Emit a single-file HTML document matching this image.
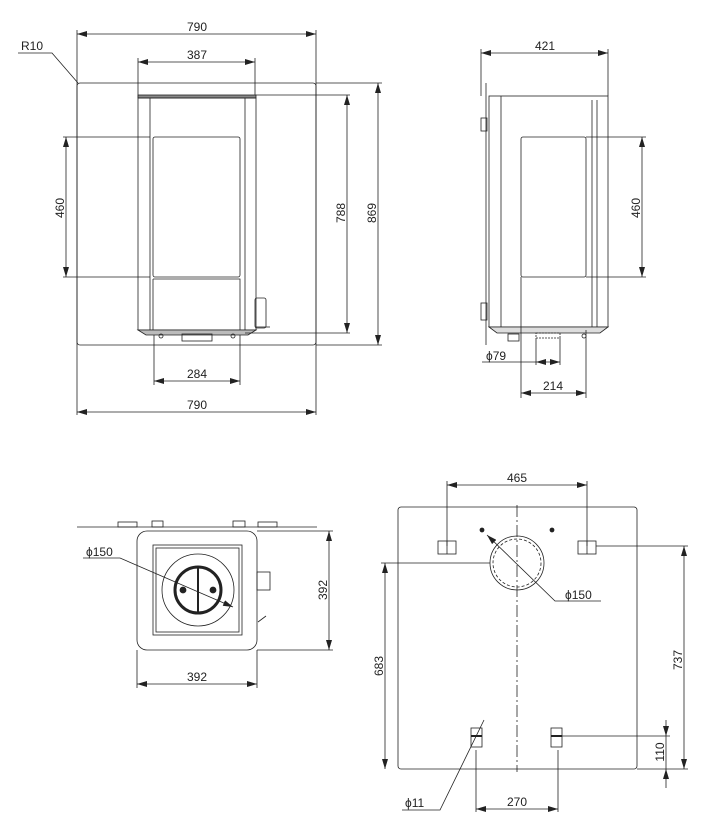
<!DOCTYPE html>
<html><head><meta charset="utf-8"><style>
body{margin:0;background:#fff}
svg{display:block}
text{font-family:"Liberation Sans",Arial,sans-serif;font-size:12px;fill:#222}
</style></head><body>
<svg width="727" height="824" viewBox="0 0 727 824" xmlns="http://www.w3.org/2000/svg">
<defs>
<marker id="a" viewBox="0 0 10 6" refX="10" refY="3" markerWidth="10" markerHeight="6" orient="auto-start-reverse" markerUnits="userSpaceOnUse"><path d="M0,0 L10,3 L0,6 z" fill="#222"/></marker>
</defs>
<g stroke="#222" stroke-width="0.8" fill="none">
<!-- FRONT VIEW -->
<rect x="77" y="83" width="239" height="262" rx="3"/>
<line x1="77" y1="30" x2="77" y2="415"/><line x1="316" y1="30" x2="316" y2="415"/>
<line x1="77" y1="34" x2="316" y2="34" marker-start="url(#a)" marker-end="url(#a)"/>
<path d="M18,53 H52 L78,83"/>
<line x1="138" y1="58" x2="138" y2="98"/><line x1="255" y1="58" x2="255" y2="98"/>
<line x1="138" y1="62" x2="255" y2="62" marker-start="url(#a)" marker-end="url(#a)"/>
<rect x="138" y="95" width="118" height="3" fill="#888"/>
<rect x="138" y="98" width="118" height="232"/>
<line x1="150" y1="98" x2="150" y2="330"/><line x1="245" y1="98" x2="245" y2="330"/>
<rect x="153" y="137" width="87" height="140" rx="2"/>
<path d="M153,279 H240 V330 M153,279 V330"/>
<path d="M138,330 H256 L248,335 H146 Z" fill="#bbb"/>
<rect x="182" y="334" width="30" height="7"/>
<circle cx="161" cy="336" r="2"/><circle cx="233" cy="336" r="2"/>
<rect x="255" y="298" width="11" height="30" rx="2"/><line x1="256" y1="327" x2="270" y2="327"/>
<line x1="63" y1="137" x2="150" y2="137"/><line x1="63" y1="277" x2="150" y2="277"/>
<line x1="66" y1="137" x2="66" y2="277" marker-start="url(#a)" marker-end="url(#a)"/>
<line x1="256" y1="95" x2="350" y2="95"/><line x1="245" y1="333" x2="350" y2="333"/>
<line x1="347" y1="95" x2="347" y2="333" marker-start="url(#a)" marker-end="url(#a)"/>
<line x1="316" y1="83" x2="382" y2="83"/><line x1="316" y1="345" x2="382" y2="345"/>
<line x1="378" y1="83" x2="378" y2="345" marker-start="url(#a)" marker-end="url(#a)"/>
<line x1="154" y1="335" x2="154" y2="385"/><line x1="240" y1="335" x2="240" y2="385"/>
<line x1="154" y1="381" x2="240" y2="381" marker-start="url(#a)" marker-end="url(#a)"/>
<line x1="77" y1="412" x2="316" y2="412" marker-start="url(#a)" marker-end="url(#a)"/>
<!-- SIDE VIEW -->
<line x1="481" y1="49" x2="481" y2="96"/><line x1="608" y1="49" x2="608" y2="96"/>
<line x1="481" y1="53" x2="608" y2="53" marker-start="url(#a)" marker-end="url(#a)"/>
<rect x="489" y="96" width="119" height="231"/>
<line x1="501" y1="96" x2="501" y2="327"/><line x1="592" y1="100" x2="592" y2="327"/><line x1="597" y1="100" x2="597" y2="327"/>
<rect x="521" y="137" width="65" height="140" rx="2"/>
<line x1="486" y1="83" x2="486" y2="345"/>
<rect x="481" y="118" width="6" height="13"/><rect x="481" y="303" width="6" height="17"/>
<path d="M489,327 H608 L600,333 H497 Z" fill="#ddd"/>
<rect x="508" y="334" width="11" height="7"/>
<rect x="536" y="333" width="24" height="5" stroke-dasharray="2,1"/>
<circle cx="584" cy="336" r="2"/>
<line x1="586" y1="137" x2="646" y2="137"/><line x1="586" y1="277" x2="646" y2="277"/>
<line x1="642" y1="137" x2="642" y2="277" marker-start="url(#a)" marker-end="url(#a)"/>
<line x1="536" y1="338" x2="536" y2="365"/><line x1="560" y1="338" x2="560" y2="365"/>
<line x1="482" y1="362" x2="536" y2="362"/><line x1="536" y1="362" x2="560" y2="362" marker-start="url(#a)" marker-end="url(#a)"/>
<line x1="521" y1="277" x2="521" y2="398"/><line x1="586" y1="330" x2="586" y2="398"/>
<line x1="521" y1="393" x2="586" y2="393" marker-start="url(#a)" marker-end="url(#a)"/>
<!-- TOP VIEW -->
<line x1="77" y1="527" x2="317" y2="527"/>
<rect x="118" y="522" width="19" height="5"/><rect x="152" y="521" width="11" height="6"/>
<rect x="233" y="521" width="12" height="6"/><rect x="258" y="522" width="19" height="5"/>
<rect x="137" y="531" width="120" height="119" rx="10"/>
<rect x="153" y="545" width="89" height="90"/><rect x="156" y="548" width="83" height="84"/>
<circle cx="198" cy="590" r="36"/>
<circle cx="198" cy="590" r="23" stroke-width="3"/>
<line x1="198" y1="567" x2="198" y2="613" stroke-width="2"/>
<circle cx="183" cy="590" r="3" fill="#222"/><circle cx="213" cy="590" r="3" fill="#222"/>
<rect x="257" y="572" width="13" height="18"/>
<path d="M258,622 L266,616"/>
<path d="M83,558 H120 L233,607" marker-end="url(#a)"/>
<line x1="257" y1="531" x2="333" y2="531"/><line x1="257" y1="650" x2="333" y2="650"/>
<line x1="329" y1="531" x2="329" y2="650" marker-start="url(#a)" marker-end="url(#a)"/>
<line x1="137" y1="650" x2="137" y2="688"/><line x1="257" y1="650" x2="257" y2="688"/>
<line x1="137" y1="684" x2="257" y2="684" marker-start="url(#a)" marker-end="url(#a)"/>
<!-- BOTTOM PLATE -->
<rect x="398" y="507" width="239" height="262" rx="3"/>
<line x1="447" y1="481" x2="447" y2="546"/><line x1="587" y1="481" x2="587" y2="546"/>
<line x1="447" y1="485" x2="587" y2="485" marker-start="url(#a)" marker-end="url(#a)"/>
<line x1="517" y1="505" x2="517" y2="772" stroke-dasharray="12,3,2,3"/>
<circle cx="482" cy="530" r="2" fill="#222"/><circle cx="552" cy="530" r="2" fill="#222"/>
<rect x="438" y="541" width="18" height="13"/><line x1="447" y1="541" x2="447" y2="554"/>
<rect x="578" y="541" width="18" height="13"/><line x1="587" y1="541" x2="587" y2="554"/>
<circle cx="517" cy="563" r="27"/><circle cx="517" cy="563" r="24" stroke-dasharray="3,2"/>
<path d="M487,535 L555,601 H601" marker-start="url(#a)"/>
<line x1="381" y1="563" x2="490" y2="563"/>
<line x1="385" y1="563" x2="385" y2="769" marker-start="url(#a)" marker-end="url(#a)"/>
<line x1="596" y1="546" x2="688" y2="546"/><line x1="637" y1="769" x2="688" y2="769"/>
<line x1="684" y1="546" x2="684" y2="769" marker-start="url(#a)" marker-end="url(#a)"/>
<line x1="560" y1="736" x2="670" y2="736"/>
<line x1="666" y1="720" x2="666" y2="736" marker-end="url(#a)"/>
<line x1="666" y1="788" x2="666" y2="769" marker-end="url(#a)"/>
<line x1="666" y1="736" x2="666" y2="769"/>
<rect x="471" y="728" width="11" height="19"/><rect x="551" y="728" width="11" height="19"/>
<line x1="471" y1="736" x2="482" y2="736" stroke-width="2"/><line x1="551" y1="736" x2="562" y2="736" stroke-width="2"/>
<line x1="476" y1="750" x2="476" y2="812"/><line x1="558" y1="750" x2="558" y2="812"/>
<line x1="476" y1="809" x2="558" y2="809" marker-start="url(#a)" marker-end="url(#a)"/>
<path d="M402,810 H440 L484,720"/>
</g>
<text x="197" y="31" text-anchor="middle">790</text>
<text x="21" y="50">R10</text>
<text x="197" y="59" text-anchor="middle">387</text>
<text x="197" y="378" text-anchor="middle">284</text>
<text x="197" y="409" text-anchor="middle">790</text>
<text transform="translate(64,208) rotate(-90)" text-anchor="middle">460</text>
<text transform="translate(345,213) rotate(-90)" text-anchor="middle">788</text>
<text transform="translate(376,213) rotate(-90)" text-anchor="middle">869</text>
<text x="545" y="50" text-anchor="middle">421</text>
<text transform="translate(640,208) rotate(-90)" text-anchor="middle">460</text>
<text x="486" y="360">ϕ79</text>
<text x="553" y="390" text-anchor="middle">214</text>
<text x="86" y="556">ϕ150</text>
<text transform="translate(327,590) rotate(-90)" text-anchor="middle">392</text>
<text x="197" y="681" text-anchor="middle">392</text>
<text x="517" y="482" text-anchor="middle">465</text>
<text x="565" y="599">ϕ150</text>
<text transform="translate(383,666) rotate(-90)" text-anchor="middle">683</text>
<text transform="translate(682,660) rotate(-90)" text-anchor="middle">737</text>
<text transform="translate(664,752) rotate(-90)" text-anchor="middle">110</text>
<text x="517" y="806" text-anchor="middle">270</text>
<text x="405" y="807">ϕ11</text>
</svg>
</body></html>
